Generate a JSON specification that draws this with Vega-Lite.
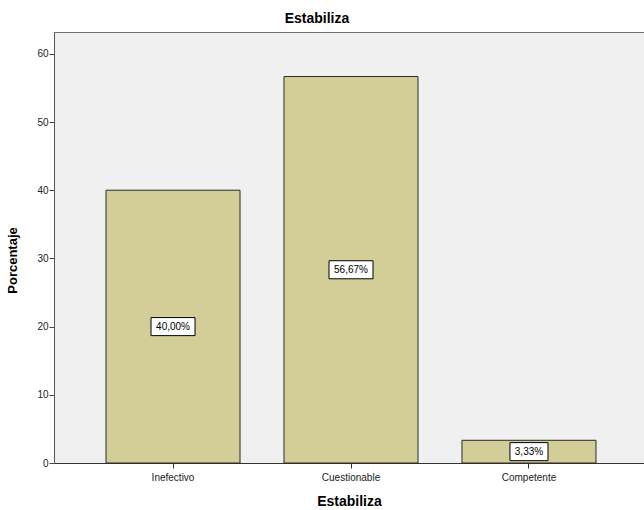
{
  "$schema": "https://vega.github.io/schema/vega-lite/v6.json",
  "autosize": {"type": "none"},
  "width": 590,
  "height": 431,
  "padding": {"left": 54, "top": 32, "right": 0, "bottom": 47},
  "background": "white",
  "config": {
    "font": "Liberation Sans",
    "view": {"fill": "#F0F0F0", "stroke": "#6e6e6e", "strokeWidth": 1}
  },
  "title": {
    "text": "Estabiliza",
    "fontSize": 14,
    "fontWeight": "bold",
    "color": "#000000",
    "anchor": "middle",
    "dx": -32,
    "offset": 6
  },
  "data": {
    "values": [
      {"Estabiliza": "Inefectivo", "Porcentaje": 40.0, "label": "40,00%"},
      {"Estabiliza": "Cuestionable", "Porcentaje": 56.67, "label": "56,67%"},
      {"Estabiliza": "Competente", "Porcentaje": 3.33, "label": "3,33%"}
    ]
  },
  "transform": [{"calculate": "datum.Porcentaje / 2", "as": "mid"}],
  "encoding": {
    "x": {
      "field": "Estabiliza",
      "type": "nominal",
      "sort": null,
      "scale": {"paddingInner": 0.247, "paddingOuter": 0.281, "align": 0.52},
      "axis": {
        "title": "Estabiliza",
        "labelAngle": 0,
        "labelFontSize": 10,
        "labelColor": "#222222",
        "labelPadding": 4,
        "tickSize": 5,
        "tickColor": "#333333",
        "domainColor": "#333333",
        "titleFontSize": 14,
        "titleFontWeight": "bold",
        "titleColor": "#000000",
        "titlePadding": 12
      }
    }
  },
  "layer": [
    {
      "mark": {"type": "bar", "fill": "#D3CE97", "stroke": "#2a2a2a", "strokeWidth": 1},
      "encoding": {
        "y": {
          "field": "Porcentaje",
          "type": "quantitative",
          "scale": {"domain": [0, 63.2], "nice": false, "zero": true},
          "axis": {
            "title": "Porcentaje",
            "values": [0, 10, 20, 30, 40, 50, 60],
            "grid": false,
            "labelFontSize": 10,
            "labelColor": "#222222",
            "labelPadding": 1,
            "tickSize": 5,
            "tickColor": "#444444",
            "domainColor": "#555555",
            "titleFontSize": 13,
            "titleFontWeight": "bold",
            "titleColor": "#000000",
            "titlePadding": 17,
            "titleY": 228
          }
        }
      }
    },
    {
      "mark": {"type": "point", "filled": true, "fill": "#FFFFFF", "stroke": "#000000", "strokeWidth": 1, "opacity": 1},
      "encoding": {
        "y": {"field": "mid", "type": "quantitative"},
        "shape": {
          "condition": {"test": "datum.Porcentaje < 10", "value": "M-1,-0.474L1,-0.474L1,0.474L-1,0.474Z"},
          "value": "M-1,-0.41L1,-0.41L1,0.41L-1,0.41Z"
        },
        "size": {
          "condition": {"test": "datum.Porcentaje < 10", "value": 1444},
          "value": 1936
        }
      }
    },
    {
      "mark": {"type": "text", "fontSize": 10, "color": "#000000", "align": "center", "baseline": "middle"},
      "encoding": {
        "y": {"field": "mid", "type": "quantitative"},
        "text": {"field": "label"}
      }
    }
  ]
}
